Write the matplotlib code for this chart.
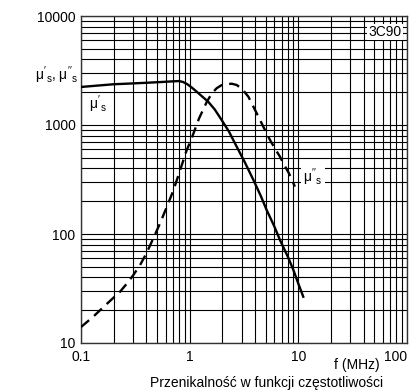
import matplotlib
matplotlib.use("Agg")
import matplotlib.pyplot as plt
from matplotlib.ticker import LogLocator, NullFormatter

plt.rcParams['font.family'] = ['Liberation Sans', 'DejaVu Sans']
plt.rcParams['mathtext.fontset'] = 'custom'
plt.rcParams['mathtext.rm'] = 'Liberation Sans'
plt.rcParams['mathtext.it'] = 'Liberation Sans'
plt.rcParams['mathtext.bf'] = 'Liberation Sans:bold'

# Data
f_real = [0.1, 0.15, 0.2, 0.28, 0.4, 0.55, 0.7, 0.8, 0.87, 0.95, 1.05, 1.16, 1.3, 1.48, 1.7, 1.97,
          2.3, 2.71, 3.2, 3.86, 4.5, 5.11, 6.0, 6.78, 8.0, 9.0, 10.0, 11.1]
mu_real = [2233, 2310, 2365, 2400, 2440, 2480, 2515, 2530, 2480, 2370, 2200, 2022, 1830, 1636, 1390, 1111,
           870, 632, 460, 313, 225, 166, 118, 88, 62, 46.8, 35, 26.6]

f_imag = [0.1, 0.13, 0.17, 0.229, 0.27, 0.303, 0.35, 0.40, 0.46, 0.533, 0.62, 0.71, 0.82, 0.94, 1.0,
          1.1, 1.22, 1.44, 1.6, 1.77, 1.95, 2.19, 2.45, 2.71, 3.05, 3.47, 4.14, 4.8, 5.49, 6.2, 6.78, 7.28, 8.2, 9.3]
mu_imag = [14, 17.5, 22.5, 29.6, 36, 42, 52, 66.5, 90, 125, 180, 253, 390, 590, 680,
           870, 1150, 1636, 1950, 2172, 2310, 2377, 2390, 2328, 2130, 1818, 1280, 950, 728, 590, 512, 445, 360, 272]

xticks = [0.1, 1, 10, 100]
xticklabels = ['0.1', '1', '10', '100']
yticks = [10, 100, 1000, 10000]
yticklabels = ['10', '100', '1000', '10000']

fig = plt.figure(figsize=(4.15, 3.92), dpi=100)
ax = fig.add_axes([81/415, 1-343/392, (407-81)/415, (343-16)/392])
ax.set_xscale('log')
ax.set_yscale('log')
ax.set_xlim(0.1, 100)
ax.set_ylim(10, 10000)

ax.xaxis.set_minor_locator(LogLocator(base=10, subs=range(2, 10)))
ax.yaxis.set_minor_locator(LogLocator(base=10, subs=range(2, 10)))
ax.xaxis.set_minor_formatter(NullFormatter())
ax.yaxis.set_minor_formatter(NullFormatter())
ax.grid(True, which='both', color='black', linewidth=0.8)
ax.set_axisbelow(True)

ax.set_xticks(xticks)
ax.set_xticklabels(xticklabels)
ax.set_yticks(yticks)
ax.set_yticklabels(yticklabels)
ax.tick_params(which='both', length=0, labelsize=10)
ax.tick_params(axis='x', pad=5)
ax.tick_params(axis='y', pad=4)
ax.get_xticklabels()[-1].set_horizontalalignment('right')

for s in ax.spines.values():
    s.set_linewidth(1.0)
    s.set_color('#333333')

ax.plot(f_real, mu_real, color='black', linewidth=1.7, zorder=3)
ax.plot(f_imag, mu_imag, color='black', linewidth=1.7, dashes=(4.5, 2.8), zorder=3)

ax.text(98/415, 1-104/392, r"$\mu'_\mathrm{s}$", transform=fig.transFigure,
        ha='center', va='center', fontsize=10, zorder=5)
ax.text(313/415, 1-177/392, r"$\mu''_\mathrm{s}$", transform=fig.transFigure,
        ha='center', va='center', fontsize=10, zorder=5,
        bbox=dict(facecolor='white', edgecolor='none', pad=1.5))
ax.text(385/415, 1-32/392, "3C90", transform=fig.transFigure,
        ha='center', va='center', fontsize=10, zorder=5,
        bbox=dict(facecolor='white', edgecolor='none', pad=1.0))
fig.text(57/415, 1-75/392, r"$\mu'_\mathrm{s}$, $\mu''_\mathrm{s}$",
         ha='center', va='center', fontsize=10)
fig.text(357/415, 1-365/392, "f (MHz)", ha='center', va='center', fontsize=10)
fig.text(267/415, 1-383/392, "Przenikalność w funkcji częstotliwości",
         ha='center', va='center', fontsize=10)

fig.savefig('out.png', dpi=100)
